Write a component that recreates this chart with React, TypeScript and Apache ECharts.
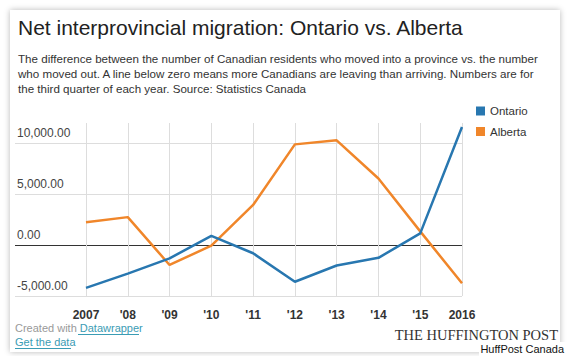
import React, { useEffect, useRef } from "react";
import * as echarts from "echarts";

const years = ["2007", "'08", "'09", "'10", "'11", "'12", "'13", "'14", "'15", "2016"];
const ontario = [-4200, -2800, -1300, 900, -800, -3600, -2000, -1250, 1150, 11600];
const alberta = [2250, 2750, -1950, -50, 3950, 9900, 10300, 6550, 1350, -3750];
const yTicks = { min: -5000, max: 12000, interval: 5000 };

const TITLE = "Net interprovincial migration: Ontario vs. Alberta";
const SUBTITLE =
  "The difference between the number of Canadian residents who moved into a province vs. the number\nwho moved out. A line below zero means more Canadians are leaving than arriving. Numbers are for\nthe third quarter of each year. Source: Statistics Canada";

const FONT = 'Arial, "Liberation Sans", sans-serif';
const BLUE = "#2877b0";
const ORANGE = "#f0862a";
const LINK = "#3a9cb4";

function fmt(v: number): string {
  const s = Math.abs(v).toFixed(2);
  const [i, d] = s.split(".");
  const withComma = i.replace(/\B(?=(\d{3})+(?!\d))/g, ",");
  return (v < 0 ? "-" : "") + withComma + "." + d;
}

export default function App() {
  const ref = useRef<HTMLDivElement>(null);
  useEffect(() => {
    if (!ref.current) return;
    const chart = echarts.init(ref.current, null, { renderer: "svg" });
    chart.setOption({
      animation: false,
      backgroundColor: "transparent",
      textStyle: { fontFamily: FONT },
      title: [
        {
          text: TITLE,
          left: 13,
          top: 12,
          textStyle: { fontSize: 21, fontWeight: "normal", color: "#222", fontFamily: FONT },
        },
        {
          text: SUBTITLE,
          left: 13,
          top: 46,
          textStyle: { fontSize: 11.6, lineHeight: 15, fontWeight: "normal", color: "#333", fontFamily: FONT },
        },
      ],
      legend: {
        orient: "vertical",
        left: 471,
        top: 100,
        itemWidth: 9,
        itemHeight: 9,
        itemGap: 8.5,
        icon: "rect",
        data: ["Ontario", "Alberta"],
        textStyle: { fontSize: 11.5, color: "#333", fontFamily: FONT },
      },
      grid: [
        { left: 86, right: 108, top: 123, bottom: 60 },
        { left: 15, right: 108, top: 123, bottom: 60 },
      ],
      xAxis: [
        {
          type: "category",
          gridIndex: 0,
          data: years,
          boundaryGap: false,
          axisLine: { show: false },
          axisTick: { show: false },
          axisLabel: { margin: 13, fontSize: 12, fontWeight: "bold", color: "#333", fontFamily: FONT },
          splitLine: { show: true, lineStyle: { color: "#dddddd", width: 1 } },
        },
        {
          type: "value",
          gridIndex: 1,
          show: false,
        },
      ],
      yAxis: [
        {
          type: "value",
          gridIndex: 0,
          min: yTicks.min,
          max: yTicks.max,
          interval: yTicks.interval,
          show: false,
          splitLine: { show: false },
        },
        {
          type: "value",
          gridIndex: 1,
          min: yTicks.min,
          max: yTicks.max,
          interval: yTicks.interval,
          axisLine: { show: false },
          axisTick: { show: false },
          axisLabel: {
            inside: true,
            margin: 2,
            align: "left",
            verticalAlign: "bottom",
            padding: [0, 0, 4, 0],
            fontSize: 12,
            color: "#444",
            fontFamily: FONT,
            showMaxLabel: false,
            formatter: (v: number) => (v === yTicks.max ? "" : fmt(v)),
          },
          splitLine: {
            show: true,
            showMaxLine: false,
            lineStyle: { color: ["#dddddd", "#333333", "#dddddd", "#dddddd"], width: 1 },
          },
        },
      ],
      series: [
        {
          name: "Ontario",
          type: "line",
          xAxisIndex: 0,
          yAxisIndex: 0,
          data: ontario,
          symbol: "none",
          lineStyle: { color: BLUE, width: 2.5 },
          itemStyle: { color: BLUE },
          z: 3,
        },
        {
          name: "Alberta",
          type: "line",
          xAxisIndex: 0,
          yAxisIndex: 0,
          data: alberta,
          symbol: "none",
          lineStyle: { color: ORANGE, width: 2.5 },
          itemStyle: { color: ORANGE },
          z: 2,
        },
      ],
      graphic: [
        {
          type: "text",
          left: 15,
          top: 322,
          style: {
            text: "{a|Created with }{b|Datawrapper}",
            rich: {
              a: { fontSize: 11, fill: "#999", fontFamily: FONT },
              b: { fontSize: 11, fill: LINK, fontFamily: FONT },
            },
          },
        },
        { type: "line", shape: { x1: 78, y1: 334.5, x2: 139, y2: 334.5 }, style: { stroke: LINK, lineWidth: 1 } },
        {
          type: "text",
          left: 15,
          top: 336,
          style: { text: "Get the data", fontSize: 11, fill: LINK, fontFamily: FONT },
        },
        { type: "line", shape: { x1: 15, y1: 348.5, x2: 71, y2: 348.5 }, style: { stroke: LINK, lineWidth: 1 } },
        {
          type: "text",
          right: 12,
          top: 327,
          style: {
            text: "THE HUFFINGTON POST",
            fontSize: 14.5,
            fill: "#333",
            fontFamily: '"Times New Roman", "Liberation Serif", serif',
          },
        },
        { type: "rect", shape: { x: 479, y: 342, width: 91, height: 14 }, style: { fill: "#fff" } },
        {
          type: "text",
          right: 6,
          top: 343,
          style: { text: "HuffPost Canada", fontSize: 11, fill: "#111", fontFamily: FONT },
        },
      ],
    });
    return () => chart.dispose();
  }, []);

  return (
    <div style={{ position: "fixed", left: 0, top: 0, width: 570, height: 356, background: "#fff", overflow: "hidden" }}>
      <div
        style={{
          position: "absolute",
          left: 10,
          top: 10,
          width: 550,
          height: 342,
          background: "#fff",
          boxShadow: "0 0 6px rgba(0,0,0,0.28)",
        }}
      />
      <div ref={ref} style={{ position: "absolute", left: 0, top: 0, width: 570, height: 356 }} />
    </div>
  );
}
